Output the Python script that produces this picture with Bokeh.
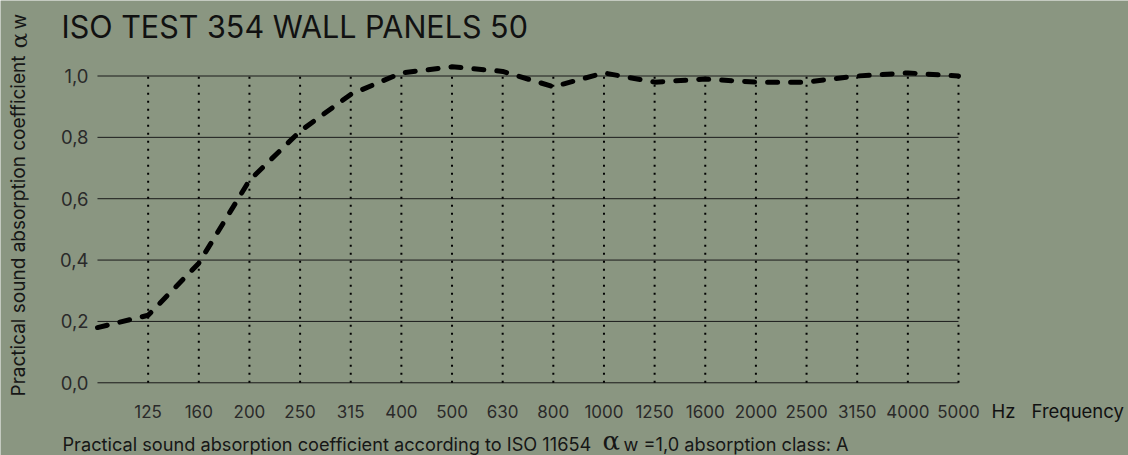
import math
from bokeh.plotting import figure
from bokeh.models import Label, ColumnDataSource, Range1d
from bokeh.core.properties import value
from bokeh.embed import file_html
from bokeh.resources import INLINE

# ---------------- data ----------------
freqs = ["100", "125", "160", "200", "250", "315", "400", "500", "630", "800",
         "1000", "1250", "1600", "2000", "2500", "3150", "4000", "5000"]
alpha_p = [0.18, 0.22, 0.39, 0.66, 0.82, 0.94, 1.01, 1.03, 1.015, 0.965,
           1.01, 0.98, 0.99, 0.98, 0.98, 1.00, 1.01, 1.00]
y_ticks = [0.0, 0.2, 0.4, 0.6, 0.8, 1.0]
y_tick_labels = ["0,0", "0,2", "0,4", "0,6", "0,8", "1,0"]

title_text = "ISO TEST 354 WALL PANELS 50"
ylabel_text = "Practical sound absorption coefficient"
note_text_1 = "Practical sound absorption coefficient according to ISO 11654"
note_text_2 = "w =1,0 absorption class: A"
unit_text = "Hz"
axis_text = "Frequency"

BG = "#8a9681"
FONT = "Inter"
ALPHA_FONT = "DejaVu Serif"
W, H = 1128, 455
K = 0.36  # baseline correction factor observed for the svg text

xs = list(range(len(freqs)))
src = ColumnDataSource(dict(x=xs, y=alpha_p))

p = figure(width=W, height=H, output_backend="svg", toolbar_location=None,
           x_range=Range1d(-1.9152, 20.3566), y_range=Range1d(-0.2370, 1.2461),
           x_axis_location=None, y_axis_location=None,
           min_border=0, min_border_left=0, min_border_right=0,
           min_border_top=0, min_border_bottom=0)
p.background_fill_color = BG
p.border_fill_color = BG
p.outline_line_color = None
p.grid.visible = False

# horizontal lines
p.segment(x0=[xs[0]] * len(y_ticks), x1=[xs[-1]] * len(y_ticks), y0=y_ticks, y1=y_ticks,
          line_color="#1a1a1a", line_width=1)
# vertical dotted lines
vx = xs[1:]
p.segment(x0=vx, x1=vx, y0=[y_ticks[0]] * len(vx), y1=[y_ticks[-1]] * len(vx),
          line_color="#000000", line_width=2, line_dash="2 6")
# curve
p.line("x", "y", source=src, line_color="#000000", line_width=5, line_dash="10 13",
       line_cap="round", line_join="round")

# tick labels (drawn through the data scales)
p.text(x=[xs[0]] * len(y_ticks), y=y_ticks, text=y_tick_labels, x_offset=-9,
       text_align="right", text_baseline="middle", text_font=value(FONT),
       text_font_size="18.5px", text_color="#2a2a2a")
p.text(x=xs[1:], y=[y_ticks[0]] * (len(xs) - 1), text=freqs[1:], y_offset=29,
       text_align="center", text_baseline="alphabetic", text_font=value(FONT),
       text_font_size="17px", text_color="#2a2a2a")

# other texts (screen units: x from left, y from bottom)
def lab(text, px, py, size, color="#161616", font=FONT, angle=0):
    s = float(size.replace("px", ""))
    if angle:
        px = px - K * s
    else:
        py = py - K * s
    p.add_layout(Label(x=px, y=H - py, x_units="screen", y_units="screen", text=text,
                       text_font=font, text_font_size=size, text_color=color,
                       angle=angle, text_align="left", text_baseline="alphabetic"))

lab(title_text, 61, 37.3, "30.5px", color="#111111")
lab(ylabel_text, 25, 396, "19px", angle=math.pi / 2)
lab("\u03b1", 26.5, 48, "23px", font=ALPHA_FONT, angle=math.pi / 2)
lab("w", 25.5, 29, "19px", angle=math.pi / 2)
lab(unit_text, 991, 417.3, "18.5px", color="#111111")
lab(axis_text, 1031, 417.3, "18.5px", color="#111111")
lab(note_text_1, 62, 450, "18.2px")
lab("\u03b1", 602, 450, "26px", font=ALPHA_FONT)
lab(note_text_2, 623, 450, "18.2px")

open("out.html", "w").write(file_html(p, INLINE))
